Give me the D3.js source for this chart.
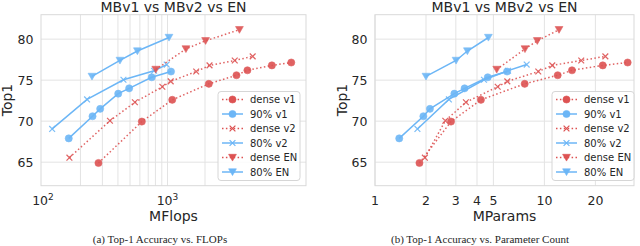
<!DOCTYPE html>
<html>
<head>
<meta charset="utf-8">
<script src="https://cdn.jsdelivr.net/npm/d3@7"></script>
<style>
  body { margin: 0; background: #fff; }
  text { font-family: "DejaVu Sans", sans-serif; fill: #262626; }
</style>
</head>
<body>
<div id="chart"></div>
<script>
// values (MFlops, MParams, Top1 per series)
var seriesNames = ["dense v1", "90% v1", "dense v2", "80% v2", "dense EN", "80% EN"];

var denseV1Flops  = [279, 622, 1092, 2148, 3580, 4383, 6890, 9860];
var denseV1Params = [1.83, 2.81, 4.22, 7.65, 11.98, 14.55, 22.1, 31.0];
var denseV1Top1   = [64.9, 69.95, 72.6, 74.55, 75.6, 76.2, 76.8, 77.15];

var sparseV1Flops  = [161, 250, 288, 402, 492, 747, 1067];
var sparseV1Params = [1.39, 1.93, 2.11, 2.94, 3.38, 4.63, 6.02];
var sparseV1Top1   = [67.9, 70.6, 71.5, 73.35, 74.0, 75.35, 76.05];

var denseV2Flops  = [163, 345, 547, 909, 1061, 1700, 2175, 3467, 4831];
var denseV2Params = [1.97, 2.6, 3.44, 5.3, 6.04, 9.2, 11.13, 16.5, 22.9];
var denseV2Top1   = [65.55, 70.05, 72.3, 74.2, 74.85, 76.05, 76.8, 77.4, 77.9];

var sparseV2Flops  = [118.5, 226, 443, 780, 985];
var sparseV2Params = [1.78, 2.73, 4.4, 6.1, 7.86];
var sparseV2Top1   = [69.05, 72.65, 75.05, 76.15, 76.9];

var denseENFlops  = [805, 1406, 2022, 3782];
var denseENParams = [5.23, 7.68, 9.08, 12.2];
var denseENTop1   = [76.3, 78.8, 79.8, 81.15];

var sparseENFlops  = [247.5, 415, 573, 1028];
var sparseENParams = [2.0, 3.01, 3.51, 4.67];
var sparseENTop1   = [75.45, 77.4, 78.55, 80.2];

var yTicks = [65, 70, 75, 80];
var flopsTicks = [100, 1000];
var flopsGrid = [200, 300, 400, 500, 600, 700, 800, 900, 1000, 2000];
var paramsTicks = [1, 2, 3, 4, 5, 10, 20];

var red = "#dd5252", blue = "#6cb6f6";

var svg = d3.select("#chart").append("svg")
    .attr("width", 640)
    .attr("height", 246);

function zipSeries(xs, ys) {
    return xs.map(function(x, i) { return [x, ys[i]]; });
}

function markerPath(kind) {
    if (kind == "circle") return d3.symbol().type(d3.symbolCircle).size(40)();
    if (kind == "x") return "M-2.9,-2.9L2.9,2.9M-2.9,2.9L2.9,-2.9";
    return "M-3.9,-3.2L3.9,-3.2L0,3.6Z"; // triangle down
}

function drawPanel(p) {
    var x = d3.scaleLog().domain(p.xDomain).range([p.left, p.right]);
    var y = d3.scaleLinear().domain([62.13, 82.98]).range([185.7, 14.7]);
    var g = svg.append("g");

    // grid
    g.selectAll(".vg").data(p.grid).enter().append("line")
        .attr("x1", function(d) { return x(d); }).attr("x2", function(d) { return x(d); })
        .attr("y1", y.range()[1]).attr("y2", y.range()[0])
        .attr("stroke", "#e3e3e3").attr("stroke-width", 1);
    g.selectAll(".hg").data(yTicks).enter().append("line")
        .attr("x1", p.left).attr("x2", p.right)
        .attr("y1", function(d) { return y(d); }).attr("y2", function(d) { return y(d); })
        .attr("stroke", "#e3e3e3").attr("stroke-width", 1);
    g.append("rect")
        .attr("x", p.left).attr("y", y.range()[1])
        .attr("width", p.right - p.left).attr("height", y.range()[0] - y.range()[1])
        .attr("fill", "none").attr("stroke", "#d9d9d9").attr("stroke-width", 1);

    // y ticks
    g.selectAll(".yt").data(yTicks).enter().append("text")
        .attr("x", p.left - 7.5).attr("y", function(d) { return y(d); })
        .attr("dy", "0.36em").attr("text-anchor", "end")
        .style("font-size", "12.5px").text(function(d) { return d; });

    // x ticks
    var xt = g.selectAll(".xt").data(p.ticks).enter().append("text")
        .attr("x", function(d) { return x(d); }).attr("y", 204.5)
        .attr("text-anchor", "middle").style("font-size", "12.5px");
    if (p.sup) {
        xt.text("10").append("tspan")
            .attr("dy", "-5").style("font-size", "9px")
            .text(function(d) { return Math.round(Math.log10(d)); });
    } else {
        xt.text(function(d) { return d; });
    }

    // titles and labels
    var cx = (p.left + p.right) / 2;
    g.append("text").attr("x", cx).attr("y", 11.5).attr("text-anchor", "middle")
        .style("font-size", "14px").text("MBv1 vs MBv2 vs EN");
    g.append("text").attr("x", cx).attr("y", 220.5).attr("text-anchor", "middle")
        .style("font-size", "14px").text(p.xLabel);
    g.append("text")
        .attr("transform", "translate(" + p.yLabelX + ",100) rotate(-90)")
        .attr("text-anchor", "middle").style("font-size", "14px").text("Top1");
    g.append("text").attr("x", p.capX).attr("y", 242.5).attr("text-anchor", "middle")
        .style("font-family", "'Liberation Serif', serif").style("font-size", "11px")
        .text(p.caption);

    // series
    var line = d3.line().x(function(d) { return x(d[0]); }).y(function(d) { return y(d[1]); });
    p.series.forEach(function(s) {
        var col = s.dense ? red : blue;
        g.append("path").datum(s.pts)
            .attr("d", line).attr("fill", "none")
            .attr("stroke", col).attr("stroke-width", 1.5)
            .attr("stroke-dasharray", s.dense ? "1.5,2.4" : null)
            .attr("opacity", s.dense ? 0.9 : 1);
        g.selectAll(null).data(s.pts).enter().append("path")
            .attr("transform", function(d) { return "translate(" + x(d[0]) + "," + y(d[1]) + ")"; })
            .attr("d", markerPath(s.marker))
            .attr("fill", s.marker == "x" ? "none" : col)
            .attr("stroke", col).attr("stroke-width", s.marker == "x" ? 1.2 : 0.6)
            .attr("opacity", 0.9);
    });

    // legend
    var lg = g.append("g").attr("transform", "translate(" + p.legX + ",91.5)");
    lg.append("rect").attr("width", 82).attr("height", 89).attr("rx", 3)
        .attr("fill", "#fff").attr("fill-opacity", 0.85)
        .attr("stroke", "#d6d6d6").attr("stroke-width", 1);
    p.series.forEach(function(s, i) {
        var col = s.dense ? red : blue;
        var ly = 8 + i * 14.5;
        lg.append("line").attr("x1", 4).attr("x2", 25).attr("y1", ly).attr("y2", ly)
            .attr("stroke", col).attr("stroke-width", 1.5)
            .attr("stroke-dasharray", s.dense ? "1.5,2.4" : null);
        lg.append("path").attr("transform", "translate(14.5," + ly + ")")
            .attr("d", markerPath(s.marker))
            .attr("fill", s.marker == "x" ? "none" : col)
            .attr("stroke", col).attr("stroke-width", s.marker == "x" ? 1.2 : 0.6);
        lg.append("text").attr("x", 32).attr("y", ly).attr("dy", "0.36em")
            .style("font-size", "10px").text(seriesNames[i]);
    });
}

var markers = ["circle", "circle", "x", "x", "tri", "tri"];

drawPanel({
    left: 41, right: 306, xDomain: [96.4, 12950],
    grid: flopsGrid, ticks: flopsTicks, sup: true,
    xLabel: "MFlops", yLabelX: 12, capX: 160, legX: 218,
    caption: "(a) Top-1 Accuracy vs. FLOPs",
    series: [
        { dense: true,  marker: markers[0], pts: zipSeries(denseV1Flops, denseV1Top1) },
        { dense: false, marker: markers[1], pts: zipSeries(sparseV1Flops, sparseV1Top1) },
        { dense: true,  marker: markers[2], pts: zipSeries(denseV2Flops, denseV2Top1) },
        { dense: false, marker: markers[3], pts: zipSeries(sparseV2Flops, sparseV2Top1) },
        { dense: true,  marker: markers[4], pts: zipSeries(denseENFlops, denseENTop1) },
        { dense: false, marker: markers[5], pts: zipSeries(sparseENFlops, sparseENTop1) }
    ]
});

drawPanel({
    left: 375, right: 634, xDomain: [1, 33.8],
    grid: paramsTicks, ticks: paramsTicks, sup: false,
    xLabel: "MParams", yLabelX: 346.5, capX: 480, legX: 552,
    caption: "(b) Top-1 Accuracy vs. Parameter Count",
    series: [
        { dense: true,  marker: markers[0], pts: zipSeries(denseV1Params, denseV1Top1) },
        { dense: false, marker: markers[1], pts: zipSeries(sparseV1Params, sparseV1Top1) },
        { dense: true,  marker: markers[2], pts: zipSeries(denseV2Params, denseV2Top1) },
        { dense: false, marker: markers[3], pts: zipSeries(sparseV2Params, sparseV2Top1) },
        { dense: true,  marker: markers[4], pts: zipSeries(denseENParams, denseENTop1) },
        { dense: false, marker: markers[5], pts: zipSeries(sparseENParams, sparseENTop1) }
    ]
});
</script>
</body>
</html>
